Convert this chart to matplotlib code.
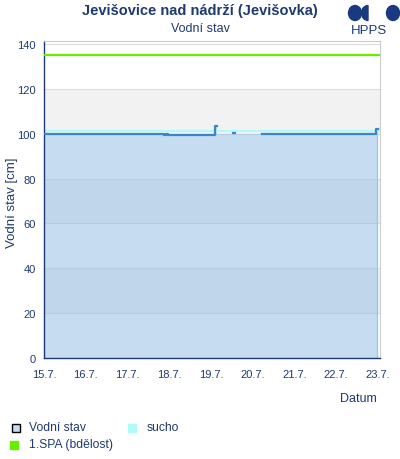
import numpy as np
import matplotlib
matplotlib.use('Agg')
import matplotlib.pyplot as plt
from matplotlib.patches import Rectangle, Circle, Wedge

plt.rcParams['font.family'] = ['Liberation Sans', 'DejaVu Sans']

# data (days after 15.7. 00:00)
day_labels = ['15.7.', '16.7.', '17.7.', '18.7.', '19.7.', '20.7.', '21.7.', '22.7.', '23.7.']
t_days = [0.00, 2.88, 2.92, 2.97, 4.10, 4.14, 4.54, 4.58, 5.22, 7.96, 8.00]
level = [100.0, 99.3, 100.0, 99.3, 103.5, np.nan, 100.5, np.nan, 100.0, 102.0, 102.0]
sucho_level = 101.0
spa1_level = 135.0
y_ticks = [0, 20, 40, 60, 80, 100, 120, 140]

navy = '#1f3a70'
W, H = 400, 460

fig = plt.figure(figsize=(4, 4.6), dpi=100)

def px(x, y):
    return x / W, 1 - y / H

ax = fig.add_axes([44 / W, 101 / H, 336 / W, 317 / H])
ax.set_xlim(0, 8.05)
ax.set_ylim(0, 141.3)

# alternating background bands
for i, y0 in enumerate(range(0, 140, 20)):
    if i % 2 == 1:
        ax.axhspan(y0, y0 + 20, color='#f2f2f2', lw=0, zorder=0)
for y in y_ticks:
    ax.axhline(y, color='#dddddd', lw=0.8, zorder=0.5)

# water level fill + line
lvl = np.array(level)
fill_lvl = np.where(np.isnan(lvl), 100.0, lvl)
ax.fill_between(t_days, 0, fill_lvl, step='post', color='#8fbbe5', alpha=0.5, lw=0, zorder=1)
ax.axhline(sucho_level, color='#b0fafa', lw=1.6, zorder=2)
ax.plot(t_days, lvl, drawstyle='steps-post', color='#3a86c8', lw=1.6, zorder=3)
ax.axvline(7.99, ymax=100 / 141.3, color='#9cc6ee', lw=1, zorder=2)
ax.axhline(spa1_level, color='#66ee00', lw=1.6, zorder=3)

ax.set_xticks(range(len(day_labels)))
ax.set_xticklabels(day_labels)
ax.set_yticks(y_ticks)
ax.tick_params(colors=navy, labelsize=8, length=0)
ax.tick_params(axis='x', pad=8)
ax.tick_params(axis='y', pad=6)
for s in ['top', 'right']:
    ax.spines[s].set_color('#cccccc')
    ax.spines[s].set_linewidth(0.8)
for s in ['left', 'bottom']:
    ax.spines[s].set_color(navy)
    ax.spines[s].set_linewidth(1.0)

fig.text(*px(12, 203), 'Vodní stav [cm]', ha='center', va='center', rotation=90,
         fontsize=9.5, color=navy)
fig.text(*px(200, 11), 'Jevišovice nad nádrží (Jevišovka)', ha='center', va='center',
         fontsize=10.5, fontweight='bold', color=navy)
fig.text(*px(200, 29), 'Vodní stav', ha='center', va='center', fontsize=9, color=navy)
fig.text(*px(358, 399), 'Datum', ha='center', va='center', fontsize=9, color=navy)

# HPPS logo
logo = '#1a3a80'
fig.add_artist(Circle(px(355, 14), 6.5 / W, transform=fig.transFigure, color=logo))
fig.add_artist(Wedge(px(368, 14), 6.5 / W, 90, 270, transform=fig.transFigure, color=logo))
fig.add_artist(Circle(px(393, 14), 6.5 / W, transform=fig.transFigure, color=logo))
fig.text(*px(369, 31), 'HPPS', ha='center', va='center', fontsize=9.5, color=logo)

# legend
def legend_box(x, y, color, edge=None):
    fig.add_artist(Rectangle(px(x, y + 8), 8 / W, 8 / H, transform=fig.transFigure,
                             facecolor=color, edgecolor=edge or color, lw=1))

legend_box(12, 425, '#c8ddf1', 'black')
fig.text(*px(29, 428), 'Vodní stav', va='center', fontsize=8.7, color=navy)
legend_box(128, 425, '#b0fafa')
fig.text(*px(147, 428), 'sucho', va='center', fontsize=8.7, color=navy)
legend_box(10, 442, '#66ee00')
fig.text(*px(29, 445), '1.SPA (bdělost)', va='center', fontsize=8.7, color=navy)

fig.savefig('out.png', dpi=100)
